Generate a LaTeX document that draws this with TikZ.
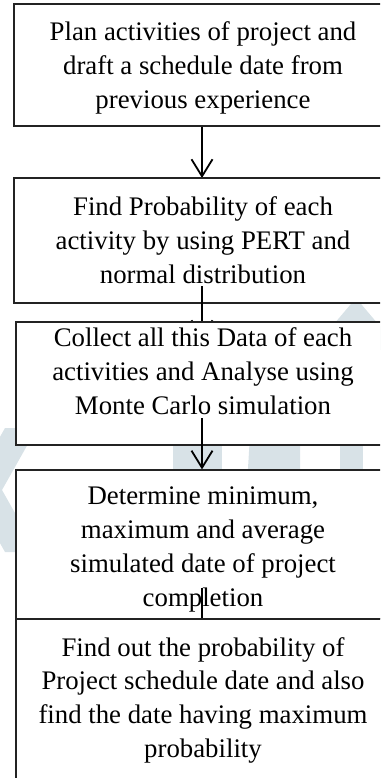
\documentclass[tikz,border=0pt]{standalone}
\usepackage{fontspec}
\setmainfont{Liberation Serif}
\usetikzlibrary{arrows.meta,calc}
\definecolor{markfill}{RGB}{216,226,231}
\definecolor{edge}{RGB}{35,35,35}
\begin{document}
\begin{tikzpicture}[x={(1pt,0)},y={(0,-1pt)},
  stepbox/.style={draw=edge, line width=1.2pt, fill=white, rectangle, inner sep=0pt},
  steptext/.style={inner sep=0pt, align=center, font=\fontsize{26.8}{33.8}\selectfont},
  flow/.style={line width=1.8pt, -{Straight Barb[length=17pt,width=21pt]}},
  link/.style={line width=1.8pt}]
\useasboundingbox (0,0) rectangle (380,778);
\clip (0,0) rectangle (380,778);

% faint logo in the background
\fill[markfill] (5,428) -- (37,428) -- (2,490) -- (37,552) -- (5,552) -- (-30,490) -- cycle;
\fill[markfill] (356,298) -- (400,350) -- (312,350) -- cycle;
\fill[markfill] (173,435) rectangle (222,485);
\fill[markfill] (250,435) -- (300,435) -- (300,485) -- (247,485) -- cycle;
\fill[markfill] (340,435) rectangle (363,485);

% step 1
\node[stepbox, minimum width=376pt, minimum height=122pt] (b1) at (202,65) {};
\node[steptext] (t1) at (203,68.2) {Plan activities of project and\\draft a schedule date from\\previous experience};
\draw[flow] (b1.south) -- (b1.south |- 0,178) coordinate (a1e);

% step 2
\node[stepbox, minimum width=376pt, minimum height=125pt] (b2) at (202,240.5) {};
\node[steptext] (t2) at (203,239.9) {Find Probability of each\\activity by using PERT and\\normal distribution};
\coordinate (a2s) at (202,286);
\coordinate (a2e) at (202,339);
\draw[flow] (a2s) -- (a2e);

% step 3
\node[stepbox, minimum width=374pt, minimum height=123pt] (b3) at (203,383.5) {};
\node[steptext] (t3) at (203,371.2) {Collect all this Data of each\\activities and Analyse using\\Monte Carlo simulation};
\coordinate (a3s) at (202,418);

% step 4
\node[stepbox, minimum width=374pt, minimum height=148.5pt] (b4) at (203,544.25) {};
\node[steptext] (t4) at (203,549.6) {Determine minimum,\\maximum and average\\simulated date of project\\completion};
\draw[flow] (a3s) -- (a3s |- b4.north);
\coordinate (a4s) at (202,588);

% step 5
\node[stepbox, minimum width=374pt, minimum height=181pt] (b5) at (203,709.5) {};
\node[steptext] (t5) at (203,700.3) {Find out the probability of\\Project schedule date and also\\find the date having maximum\\probability};
\draw[link] (a4s) -- (a4s |- b5.north);
\end{tikzpicture}
\end{document}
